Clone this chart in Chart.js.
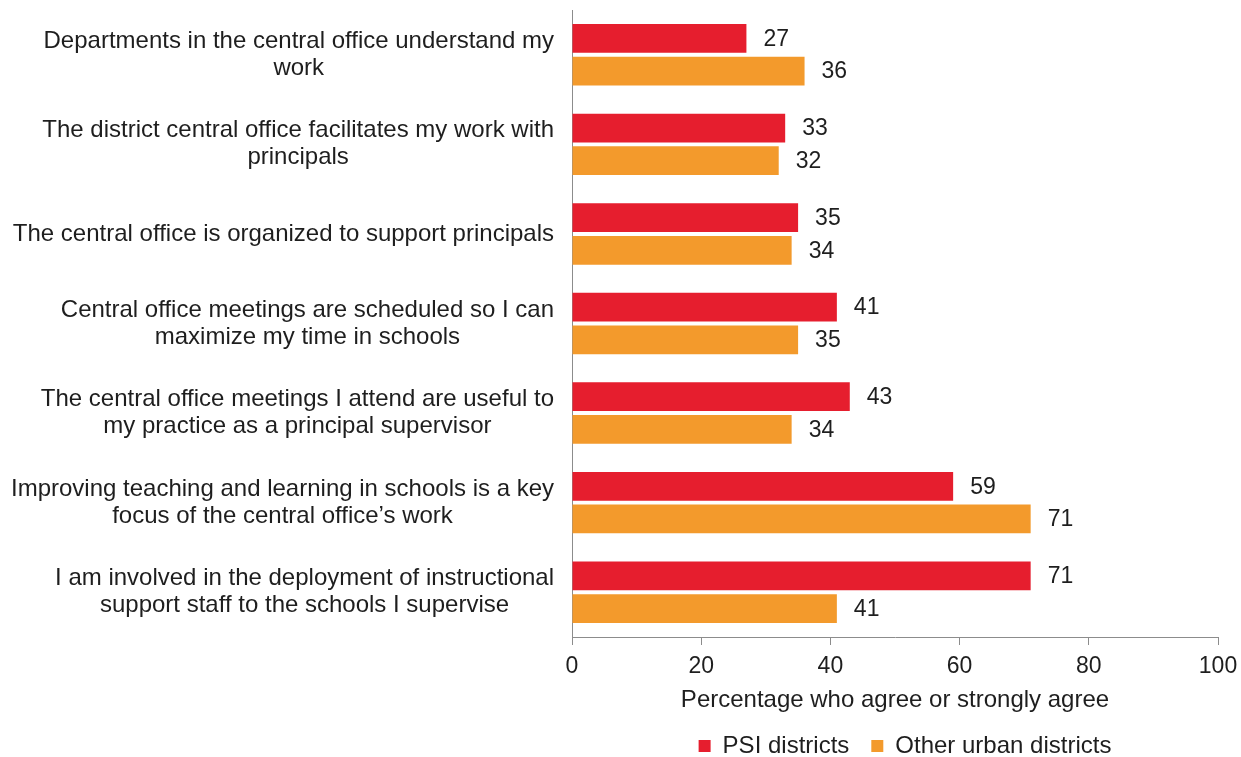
<!DOCTYPE html>
<html>
<head>
<meta charset="utf-8">
<script src="https://cdn.jsdelivr.net/npm/chart.js@4.4.1/dist/chart.umd.min.js"></script>
<style>
  html, body { margin: 0; padding: 0; background: #fff; }
  #wrap { width: 1241px; height: 757px; }
</style>
</head>
<body>
<div id="wrap"><canvas id="mycanvas"></canvas></div>
<script>
var statements = [
  ["Departments in the central office understand my", "work"],
  ["The district central office facilitates my work with", "principals"],
  ["The central office is organized to support principals"],
  ["Central office meetings are scheduled so I can", "maximize my time in schools"],
  ["The central office meetings I attend are useful to", "my practice as a principal supervisor"],
  ["Improving teaching and learning in schools is a key", "focus of the central office\u2019s work"],
  ["I am involved in the deployment of instructional", "support staff to the schools I supervise"]
];
var psi = [27, 33, 35, 41, 43, 59, 71];
var otherUrban = [36, 32, 34, 35, 34, 71, 41];
var xTicks = [0, 20, 40, 60, 80, 100];

var FONT = "'Liberation Sans', Arial, sans-serif";
var TEXT = '#1e1e1e';

// category labels: block right-aligned to the axis, lines centred in the block
var labelPlugin = {
  id: 'blockLabels',
  afterLayout: function(chart) {
    // nudge the legend a little to the right, as in the original
    chart.legend.left += 10;
    chart.legend.right += 10;
  },
  afterDraw: function(chart) {
    var ctx = chart.ctx;
    var scale = chart.scales.y;
    ctx.save();
    ctx.font = '24px ' + FONT;
    ctx.fillStyle = TEXT;
    ctx.textAlign = 'center';
    ctx.textBaseline = 'middle';
    var lh = 27;
    for (var i = 0; i < statements.length; i++) {
      var lines = statements[i];
      var w = 0;
      lines.forEach(function(l){ w = Math.max(w, ctx.measureText(l).width); });
      var cx = scale.right - 18 - w / 2;
      var y0 = scale.getPixelForTick(i) - (lines.length - 1) * lh / 2;
      lines.forEach(function(l, k){ ctx.fillText(l, cx, y0 + k * lh); });
    }
    ctx.restore();
  }
};

// value labels at bar ends
var valuePlugin = {
  id: 'barValues',
  afterDatasetsDraw: function(chart) {
    var ctx = chart.ctx;
    ctx.save();
    ctx.font = '23px ' + FONT;
    ctx.fillStyle = TEXT;
    ctx.textAlign = 'left';
    ctx.textBaseline = 'middle';
    chart.data.datasets.forEach(function(ds, d){
      chart.getDatasetMeta(d).data.forEach(function(bar, i){
        ctx.fillText(ds.data[i], bar.x + 17, bar.y + 1);
      });
    });
    ctx.restore();
  }
};

var ctx = document.getElementById('mycanvas');
var chart = new Chart(ctx, {
  type: 'bar',
  data: {
    labels: statements.map(function(s){ return s.join(' '); }),
    datasets: [
      {
        label: 'PSI districts',
        backgroundColor: '#e61e2e',
        data: psi,
        categoryPercentage: 0.73,
        barPercentage: 0.88
      },
      {
        label: 'Other urban districts',
        backgroundColor: '#f39a2c',
        data: otherUrban,
        categoryPercentage: 0.73,
        barPercentage: 0.88
      }
    ]
  },
  options: {
    indexAxis: 'y',
    responsive: true,
    maintainAspectRatio: false,
    animation: false,
    layout: { padding: { top: 10, right: 23, left: 0, bottom: -11 } },
    plugins: {
      tooltip: { enabled: false },
      legend: {
        position: 'bottom',
        fullSize: false,
        labels: {
          boxWidth: 12,
          boxHeight: 12,
          padding: 22,
          color: TEXT,
          font: { family: FONT, size: 24 }
        }
      }
    },
    scales: {
      x: {
        min: 0,
        max: 100,
        afterBuildTicks: function(scale){ scale.ticks = xTicks.map(function(v){ return { value: v }; }); },
        afterFit: function(scale){ scale.paddingLeft = 0; scale.paddingRight = 0; },
        grid: { drawOnChartArea: false, drawTicks: true, tickLength: 8, color: '#8c8c8c' },
        border: { display: true, color: '#8c8c8c' },
        ticks: { padding: 10, color: TEXT, font: { family: FONT, size: 23, lineHeight: 1 }, maxRotation: 0 },
        title: {
          display: true,
          text: 'Percentage who agree or strongly agree',
          color: TEXT,
          font: { family: FONT, size: 24, lineHeight: 1 },
          padding: { top: 0, bottom: 0 }
        }
      },
      y: {
        grid: { display: false },
        border: { display: true, color: '#8c8c8c' },
        ticks: { display: false },
        afterFit: function(scale){ scale.width = 572; }
      }
    }
  },
  plugins: [labelPlugin, valuePlugin]
});
</script>
</body>
</html>
